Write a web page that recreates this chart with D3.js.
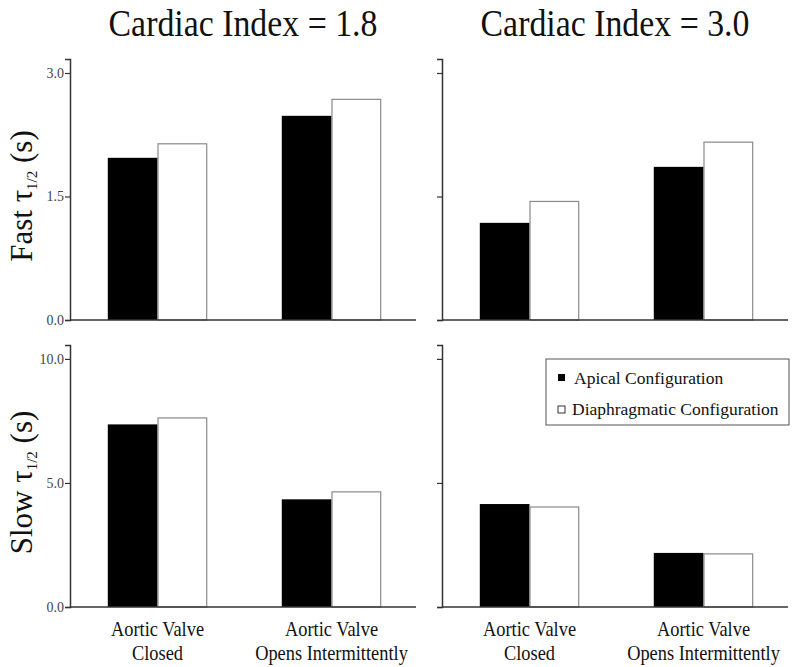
<!DOCTYPE html>
<html>
<head>
<meta charset="utf-8">
<script src="https://cdn.jsdelivr.net/npm/d3@7"></script>
<style>
  body { margin: 0; background: #fff; }
  svg text { font-family: "Liberation Serif", "Times New Roman", serif; }
</style>
</head>
<body>
<div class="fig"></div>
<script>
const w = 800;
const h = 667;

// categories / series
const groups = ["closed", "opens"];
const groupLabels = [["Aortic Valve", "Closed"], ["Aortic Valve", "Opens Intermittently"]];
const series = ["Apical Configuration", "Diaphragmatic Configuration"];
const columnTitles = ["Cardiac Index = 1.8", "Cardiac Index = 3.0"];

// values (seconds)
const fastCI18Apical = [1.97, 2.48];
const fastCI18Diaph  = [2.14, 2.68];
const fastCI30Apical = [1.18, 1.86];
const fastCI30Diaph  = [1.44, 2.16];
const slowCI18Apical = [7.36, 4.34];
const slowCI18Diaph  = [7.62, 4.64];
const slowCI30Apical = [4.15, 2.18];
const slowCI30Diaph  = [4.03, 2.14];

const fastTicks = [0, 1.5, 3.0];
const slowTicks = [0, 5.0, 10.0];

let svg = d3.select(".fig")
    .append("svg")
    .attr("width", w)
    .attr("height", h);

const colX = [70, 442];
const pw = 346;
const rows = [
  { top: 59, bottom: 320, max: 3.17, ticks: fastTicks, label: "Fast", data: [[fastCI18Apical, fastCI18Diaph], [fastCI30Apical, fastCI30Diaph]] },
  { top: 345, bottom: 607, max: 10.56, ticks: slowTicks, label: "Slow", data: [[slowCI18Apical, slowCI18Diaph], [slowCI30Apical, slowCI30Diaph]] }
];

let x0 = d3.scaleBand()
    .domain(groups)
    .range([3, pw])
    .paddingInner(0.4286)
    .paddingOuter(0.2);

let x1 = d3.scaleBand()
    .domain(series)
    .range([0, x0.bandwidth()]);

rows.forEach((r, ri) => {
  let y = d3.scaleLinear()
      .domain([0, r.max])
      .range([r.bottom, r.top]);

  colX.forEach((cx, ci) => {
    let g = svg.append("g").attr("transform", "translate(" + cx + ",0)");

    // bars
    let data = r.data[ci];
    groups.forEach((grp, gi) => {
      series.forEach((s, si) => {
        let v = data[si][gi];
        g.append("rect")
          .attr("x", x0(grp) + x1(s) + (si == 1 ? 0.5 : 0))
          .attr("y", y(v))
          .attr("width", x1.bandwidth() - (si == 1 ? 1 : 0))
          .attr("height", y(0) - y(v))
          .attr("fill", si == 0 ? "#000" : "#fff")
          .attr("stroke", si == 0 ? "none" : "#8a8a8a")
          .attr("stroke-width", 1.2);
      });
    });

    // y axis
    let ax = g.append("g")
      .call(d3.axisLeft(y).tickValues(r.ticks).tickSizeOuter(0).tickSize(5)
        .tickFormat(ci == 0 ? d3.format(".1f") : ""));
    ax.attr("font-family", null);
    ax.select(".domain").attr("stroke", "#333").attr("stroke-width", 1.5);
    ax.selectAll(".tick line").attr("stroke", "#333").attr("stroke-width", 1.2);
    ax.selectAll(".tick text")
      .attr("font-size", 14)
      .attr("fill", "#444")
      .attr("x", -6);

    // x axis line
    g.append("line")
      .attr("x1", 0).attr("x2", pw)
      .attr("y1", y(0)).attr("y2", y(0))
      .attr("stroke", "#333")
      .attr("stroke-width", 1.5);

    // category labels under the bottom row
    if (ri == 1) {
      groups.forEach((grp, gi) => {
        let t = g.append("text")
          .attr("text-anchor", "middle")
          .attr("font-size", 20)
          .attr("fill", "#111")
          .attr("transform", "translate(" + (x0(grp) + x0.bandwidth() / 2) + ",636) scale(0.92,1)");
        groupLabels[gi].forEach((line, li) => {
          t.append("tspan").attr("x", 0).attr("y", li * 24).text(line);
        });
      });
    }

    // column titles
    if (ri == 0) {
      svg.append("text")
        .attr("text-anchor", "middle")
        .attr("font-size", 38)
        .attr("fill", "#111")
        .attr("transform", "translate(" + (cx + pw / 2) + ",36) scale(0.89,1)")
        .text(columnTitles[ci]);
    }
  });

  // row label, rotated
  let lab = svg.append("text")
    .attr("text-anchor", "middle")
    .attr("font-size", 31)
    .attr("fill", "#111")
    .attr("transform", "translate(32," + ((r.top + 13 + r.bottom) / 2) + ") rotate(-90)");
  lab.append("tspan").text(r.label + " \u03c4");
  lab.append("tspan").attr("font-size", 15).attr("dy", 5).text("1/2");
  lab.append("tspan").attr("dy", -5).text(" (s)");
});

// legend (bottom right panel)
let leg = svg.append("g").attr("transform", "translate(546,359)");
leg.append("rect")
  .attr("width", 243).attr("height", 66)
  .attr("fill", "#fff")
  .attr("stroke", "#555")
  .attr("stroke-width", 1);
series.forEach((s, i) => {
  leg.append("rect")
    .attr("x", 12).attr("y", 15 + i * 32)
    .attr("width", 7).attr("height", 7)
    .attr("fill", i == 0 ? "#000" : "#fff")
    .attr("stroke", "#000")
    .attr("stroke-width", i == 0 ? 0 : 0.8);
  leg.append("text")
    .attr("x", i == 0 ? 28 : 26)
    .attr("y", 25 + i * 31)
    .attr("font-size", 17.5)
    .attr("fill", "#111")
    .text(s);
});
</script>
</body>
</html>
